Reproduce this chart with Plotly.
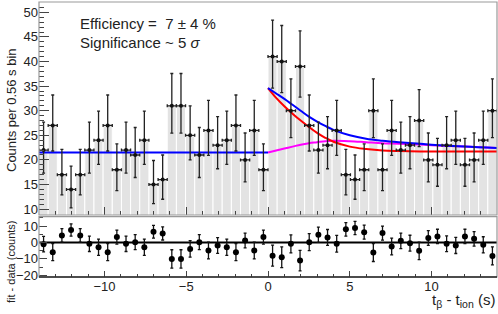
import numpy as np
import plotly.graph_objects as go

# ---- data ----
BIN_LO = -14.0
BIN_WIDTH = 0.56
counts = [22, 27, 17, 14, 17, 22, 24, 27, 18, 22,
          21, 24, 15, 16, 31, 31, 25, 21, 26, 23,
          24, 27, 20, 26, 18, 41, 40, 30, 39, 27,
          22, 23, 26, 17, 16, 18, 30, 18, 26, 22,
          23, 28, 20, 19, 23, 24, 19, 20, 24, 30]
residuals = [-1.0, -5.9, 4.3, 7.6, 4.3, -0.8, -2.9, -5.9, 3.3, -0.8,
             0.2, -2.9, 6.5, 5.5, -10.0, -10.0, -3.9, 0.2, -4.9, -1.8,
             -2.9, -5.9, 1.2, -4.9, 3.3, -8.0, -9.0, -0.8, -11.0, 0.2,
             4.7, 3.1, -0.8, 8.0, 8.8, 6.3, -6.1, 5.7, -2.4, 1.0,
             -0.4, -5.1, 2.7, 3.7, -0.8, -1.8, 3.7, 2.2, -1.4, -8.2]

bkg_t = [-14.0, 0.0]
bkg_level = [21.5, 21.5]
curve_t = [0, 0.5, 1, 1.5, 2, 2.5, 3, 3.5, 4, 5, 6, 7, 8, 10, 12, 14]
total_fit = [34.6, 33.5, 32.4, 31.2, 30.0, 28.8, 27.8, 26.9, 26.1, 25.0, 24.3, 23.9, 23.6, 23.1, 22.7, 22.4]
parent_fit = [34.6, 32.6, 30.9, 29.4, 28.0, 26.7, 25.5, 24.5, 23.7, 22.7, 22.2, 21.9, 21.8, 21.7, 21.7, 21.7]
daughter_fit = [21.5, 21.9, 22.3, 22.7, 23.1, 23.4, 23.6, 23.8, 23.9, 23.8, 23.6, 23.4, 23.3, 23.0, 22.7, 22.4]

top_ticks = [10, 15, 20, 25, 30, 35, 40, 45, 50]
res_ticks = [-20, -10, 0, 10]
x_ticks = [-10, -5, 0, 5, 10]

# ---- derived ----
counts_a = np.array(counts, dtype=float)
centers = BIN_LO + BIN_WIDTH * (np.arange(len(counts)) + 0.5)
err_hi = np.sqrt(counts_a) + 1.0
err_lo = np.sqrt(counts_a)
res_err = np.sqrt(counts_a)

FONT = "Liberation Sans"
TXT = "#222222"

fig = go.Figure()

fig.add_trace(go.Bar(x=centers, y=counts, width=BIN_WIDTH,
                     marker=dict(color="#e3e3e3", line=dict(color="white", width=1)),
                     xaxis="x", yaxis="y", showlegend=False, hoverinfo="skip"))

fig.add_trace(go.Scatter(x=bkg_t, y=bkg_level, mode="lines",
                         line=dict(color="#0000ff", width=2), xaxis="x", yaxis="y", showlegend=False))
fig.add_trace(go.Scatter(x=curve_t, y=daughter_fit, mode="lines", line_shape="spline",
                         line=dict(color="#ff00ff", width=2), xaxis="x", yaxis="y", showlegend=False))
fig.add_trace(go.Scatter(x=curve_t, y=parent_fit, mode="lines", line_shape="spline",
                         line=dict(color="#ff0000", width=2), xaxis="x", yaxis="y", showlegend=False))
fig.add_trace(go.Scatter(x=curve_t, y=total_fit, mode="lines", line_shape="spline",
                         line=dict(color="#0000ff", width=2), xaxis="x", yaxis="y", showlegend=False))

fig.add_trace(go.Scatter(x=centers, y=counts, mode="markers",
                         marker=dict(color="#111111", size=4),
                         error_y=dict(type="data", symmetric=False, array=err_hi, arrayminus=err_lo,
                                      color="#222222", thickness=1.3, width=1.5),
                         error_x=dict(type="constant", value=BIN_WIDTH / 2, color="#222222",
                                      thickness=1.3, width=1.5),
                         xaxis="x", yaxis="y", showlegend=False))

fig.add_trace(go.Scatter(x=[-14, 14], y=[0, 0], mode="lines", line=dict(color="black", width=2),
                         xaxis="x2", yaxis="y2", showlegend=False))
fig.add_trace(go.Scatter(x=centers, y=residuals, mode="markers",
                         marker=dict(color="black", size=6),
                         error_y=dict(type="data", array=res_err, color="#111111", thickness=1.3, width=1.5),
                         xaxis="x2", yaxis="y2", showlegend=False))

TOP_DOM = [0.2255, 1.0]
BOT_DOM = [0.0, 0.2193]

axis_common = dict(showgrid=False, zeroline=False, showline=False, automargin=False,
                   tickfont=dict(family=FONT, size=13, color=TXT))

fig.update_layout(
    width=498, height=314,
    margin=dict(l=39, r=1, t=2, b=37),
    paper_bgcolor="white", plot_bgcolor="white",
    bargap=0,
    hovermode=False,
    font=dict(family=FONT, color=TXT),
    xaxis=dict(domain=[0, 1], range=[-14, 14], anchor="y", showticklabels=False,
               tickvals=x_ticks, ticks="inside", ticklen=8, tickcolor="#444",
               minor=dict(dtick=1, tick0=0, ticks="inside", ticklen=4, tickcolor="#444"),
               **axis_common),
    yaxis=dict(domain=TOP_DOM, range=[8.8, 52.1], anchor="x", tickvals=top_ticks,
               ticks="inside", ticklen=10, tickcolor="#444",
               minor=dict(dtick=1, tick0=0, ticks="inside", ticklen=5, tickcolor="#444"),
               **axis_common),
    xaxis2=dict(domain=[0, 1], range=[-14, 14], anchor="y2", tickvals=x_ticks,
                ticks="inside", ticklen=6, tickcolor="#444",
                minor=dict(dtick=1, tick0=0, ticks="inside", ticklen=3, tickcolor="#444"),
                **axis_common),
    yaxis2=dict(domain=BOT_DOM, range=[-21, 15.7], anchor="x2", tickvals=res_ticks,
                ticks="inside", ticklen=8, tickcolor="#444",
                minor=dict(dtick=5, tick0=0, ticks="inside", ticklen=4, tickcolor="#444"),
                **axis_common),
)

# frames
fig.add_shape(type="rect", xref="x domain", yref="y domain", x0=0, x1=1, y0=0, y1=1,
              line=dict(color="#999999", width=1.2))
fig.add_shape(type="rect", xref="x2 domain", yref="y2 domain", x0=0, x1=1, y0=0, y1=1,
              line=dict(color="#999999", width=1.2))
fig.add_shape(type="line", xref="x2 domain", yref="y2 domain", x0=0, x1=1, y0=0, y1=0,
              line=dict(color="#222222", width=1.5))

ann_font = dict(family=FONT, size=15, color=TXT)
fig.add_annotation(text="Efficiency =  7 ± 4 %", xref="paper", yref="paper",
                   x=(78 - 39) / 458, y=(277 - 23) / 275, xanchor="left", yanchor="middle",
                   showarrow=False, font=ann_font)
fig.add_annotation(text="Significance ~ 5 <i>σ</i>", xref="paper", yref="paper",
                   x=(78 - 39) / 458, y=(277 - 43) / 275, xanchor="left", yanchor="middle",
                   showarrow=False, font=ann_font)
fig.add_annotation(text="Counts per 0.56 s bin", xref="paper", yref="paper",
                   x=-(39 - 11) / 458, y=(277 - 110) / 275, xanchor="center", yanchor="middle",
                   textangle=-90, showarrow=False, font=dict(family=FONT, size=13, color=TXT))
fig.add_annotation(text="fit - data (counts)", xref="paper", yref="paper",
                   x=-(39 - 11) / 458, y=(277 - 262) / 275, xanchor="center", yanchor="middle",
                   textangle=-90, showarrow=False, font=dict(family=FONT, size=11, color=TXT))
fig.add_annotation(text="t<sub>β</sub> - t<sub>ion</sub> (s)", xref="paper", yref="paper",
                   x=1.0, y=(277 - 312) / 275, xanchor="right", yanchor="bottom",
                   showarrow=False, font=dict(family=FONT, size=15, color=TXT))

fig.write_html("out.html", config={"displayModeBar": False, "staticPlot": True},
               post_script="document.body.style.margin='0px';document.body.style.overflow='hidden';")
